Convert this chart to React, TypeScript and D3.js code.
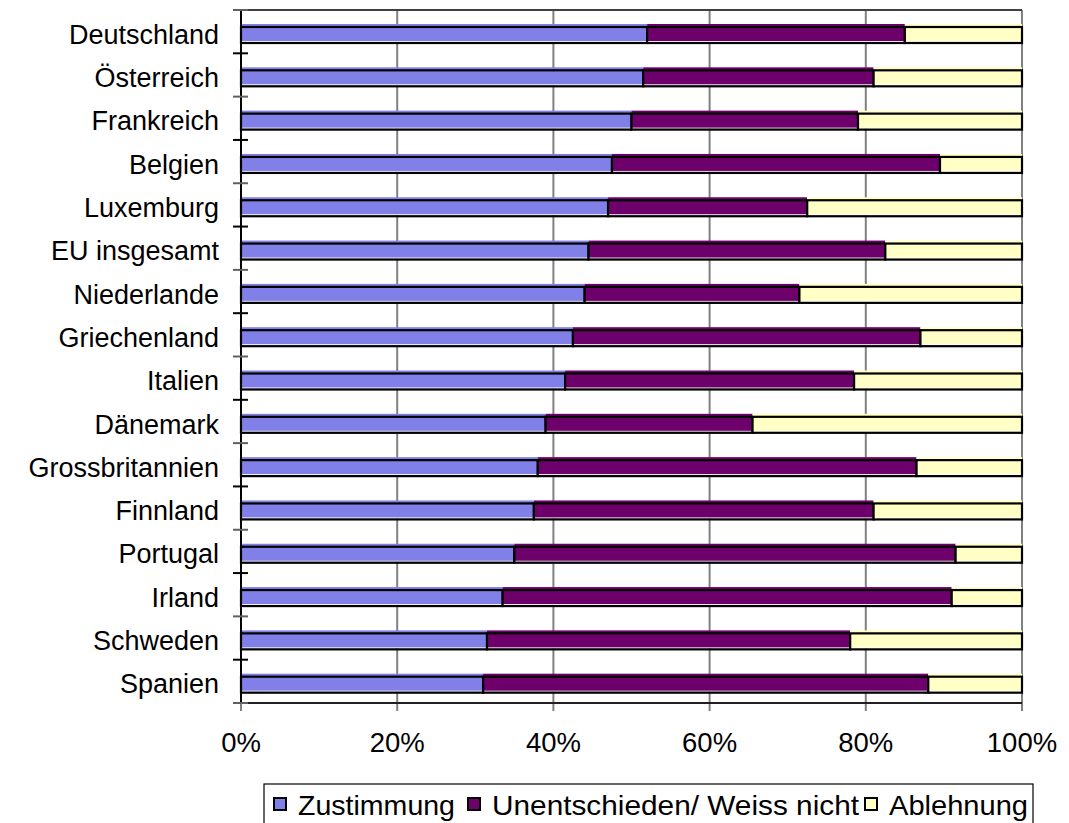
import React, { useEffect } from 'react';
import * as d3 from 'd3';

const countries = [
  'Deutschland', 'Österreich', 'Frankreich', 'Belgien', 'Luxemburg', 'EU insgesamt',
  'Niederlande', 'Griechenland', 'Italien', 'Dänemark', 'Grossbritannien', 'Finnland',
  'Portugal', 'Irland', 'Schweden', 'Spanien',
];
const zustimmung = [52, 51.5, 50, 47.5, 47, 44.5, 44, 42.5, 41.5, 39, 38, 37.5, 35, 33.5, 31.5, 31];
const unentschieden = [33, 29.5, 29, 42, 25.5, 38, 27.5, 44.5, 37, 26.5, 48.5, 43.5, 56.5, 57.5, 46.5, 57];
const ablehnung = [15, 19, 21, 10.5, 27.5, 17.5, 28.5, 13, 21.5, 34.5, 13.5, 19, 8.5, 9, 22, 12];
const seriesNames = ['Zustimmung', 'Unentschieden/ Weiss nicht', 'Ablehnung'];
const seriesColors = ['#8080E8', '#6E006B', '#FFFFC6'];
const ticks = [0, 20, 40, 60, 80, 100];

const W = 1069;
const H = 823;
const FONT = "'Liberation Sans', Arial, sans-serif";

// legend layout (marker x, text width)
const legendItems = [
  { mx: 273, tw: 157 },
  { mx: 467, tw: 367 },
  { mx: 864, tw: 139 },
];

export default function App() {
  useEffect(() => {
    document.body.style.margin = '0';
  }, []);

  const x = d3.scaleLinear().domain([0, 100]).range([241, 1022]);
  const y = d3.scaleBand<string>().domain(countries).range([10, 703]);

  const rows = countries.map((c, i) => ({ c, Z: zustimmung[i], U: unentschieden[i], A: ablehnung[i] }));
  const stacked = d3.stack<any>().keys(['Z', 'U', 'A'])(rows);

  const bandStarts = [...countries.map((c) => y(c)!), 703];

  return (
    <svg width={W} height={H} style={{ display: 'block', background: '#fff' }} fontFamily={FONT}>
      {/* gridlines */}
      {ticks.map((t) => (
        <line key={t} x1={x(t)} x2={x(t)} y1={10} y2={711} stroke="#808080" strokeWidth={2} />
      ))}
      <line x1={233} x2={1022} y1={10} y2={10} stroke="#404040" strokeWidth={2} />
      <line x1={233} x2={1022} y1={703} y2={703} stroke="#202020" strokeWidth={2} />

      {/* bars */}
      {stacked.map((s, si) =>
        s.map((d: any, i: number) => {
          const y0 = y(countries[i])! + 14;
          const x0 = x(d[0]);
          const x1 = x(d[1]);
          return (
            <g key={`${si}-${i}`}>
              <rect x={x0} y={y0} width={x1 - x0} height={18} fill={seriesColors[si]} />
              <line x1={x0} x2={x1} y1={y0 + 17.5} y2={y0 + 17.5} stroke="#fff" strokeWidth={1} />
              <rect x={x0} y={y0 + 3} width={x1 - x0} height={16} fill="none" stroke="#000" strokeWidth={2.2} />
            </g>
          );
        })
      )}

      {/* y axis */}
      <line x1={241} x2={241} y1={10} y2={703} stroke="#000" strokeWidth={2} />
      {bandStarts.map((b, i) => (
        <line key={i} x1={233} x2={248} y1={b} y2={b} stroke={i % 2 ? '#000' : '#606060'} strokeWidth={2} />
      ))}
      {countries.map((c) => (
        <text key={c} x={219} y={y(c)! + 24} dy="0.36em" textAnchor="end" fontSize={27} fill="#000">
          {c}
        </text>
      ))}

      {/* x labels */}
      {ticks.map((t) => (
        <text key={t} x={x(t)} y={752} textAnchor="middle" fontSize={27.5} fill="#000">
          {t}%
        </text>
      ))}

      {/* legend */}
      <rect x={264} y={784} width={769} height={60} fill="#fff" stroke="#000" strokeWidth={1.2} />
      {legendItems.map((it, i) => (
        <g key={i}>
          <rect x={it.mx + 1} y={798} width={12} height={12} fill={seriesColors[i]} stroke="#000" strokeWidth={2} />
          <text
            x={it.mx + 25}
            y={815}
            fontSize={28.5}
            fill="#000"
            textLength={it.tw}
            lengthAdjust="spacingAndGlyphs"
          >
            {seriesNames[i]}
          </text>
        </g>
      ))}
    </svg>
  );
}
